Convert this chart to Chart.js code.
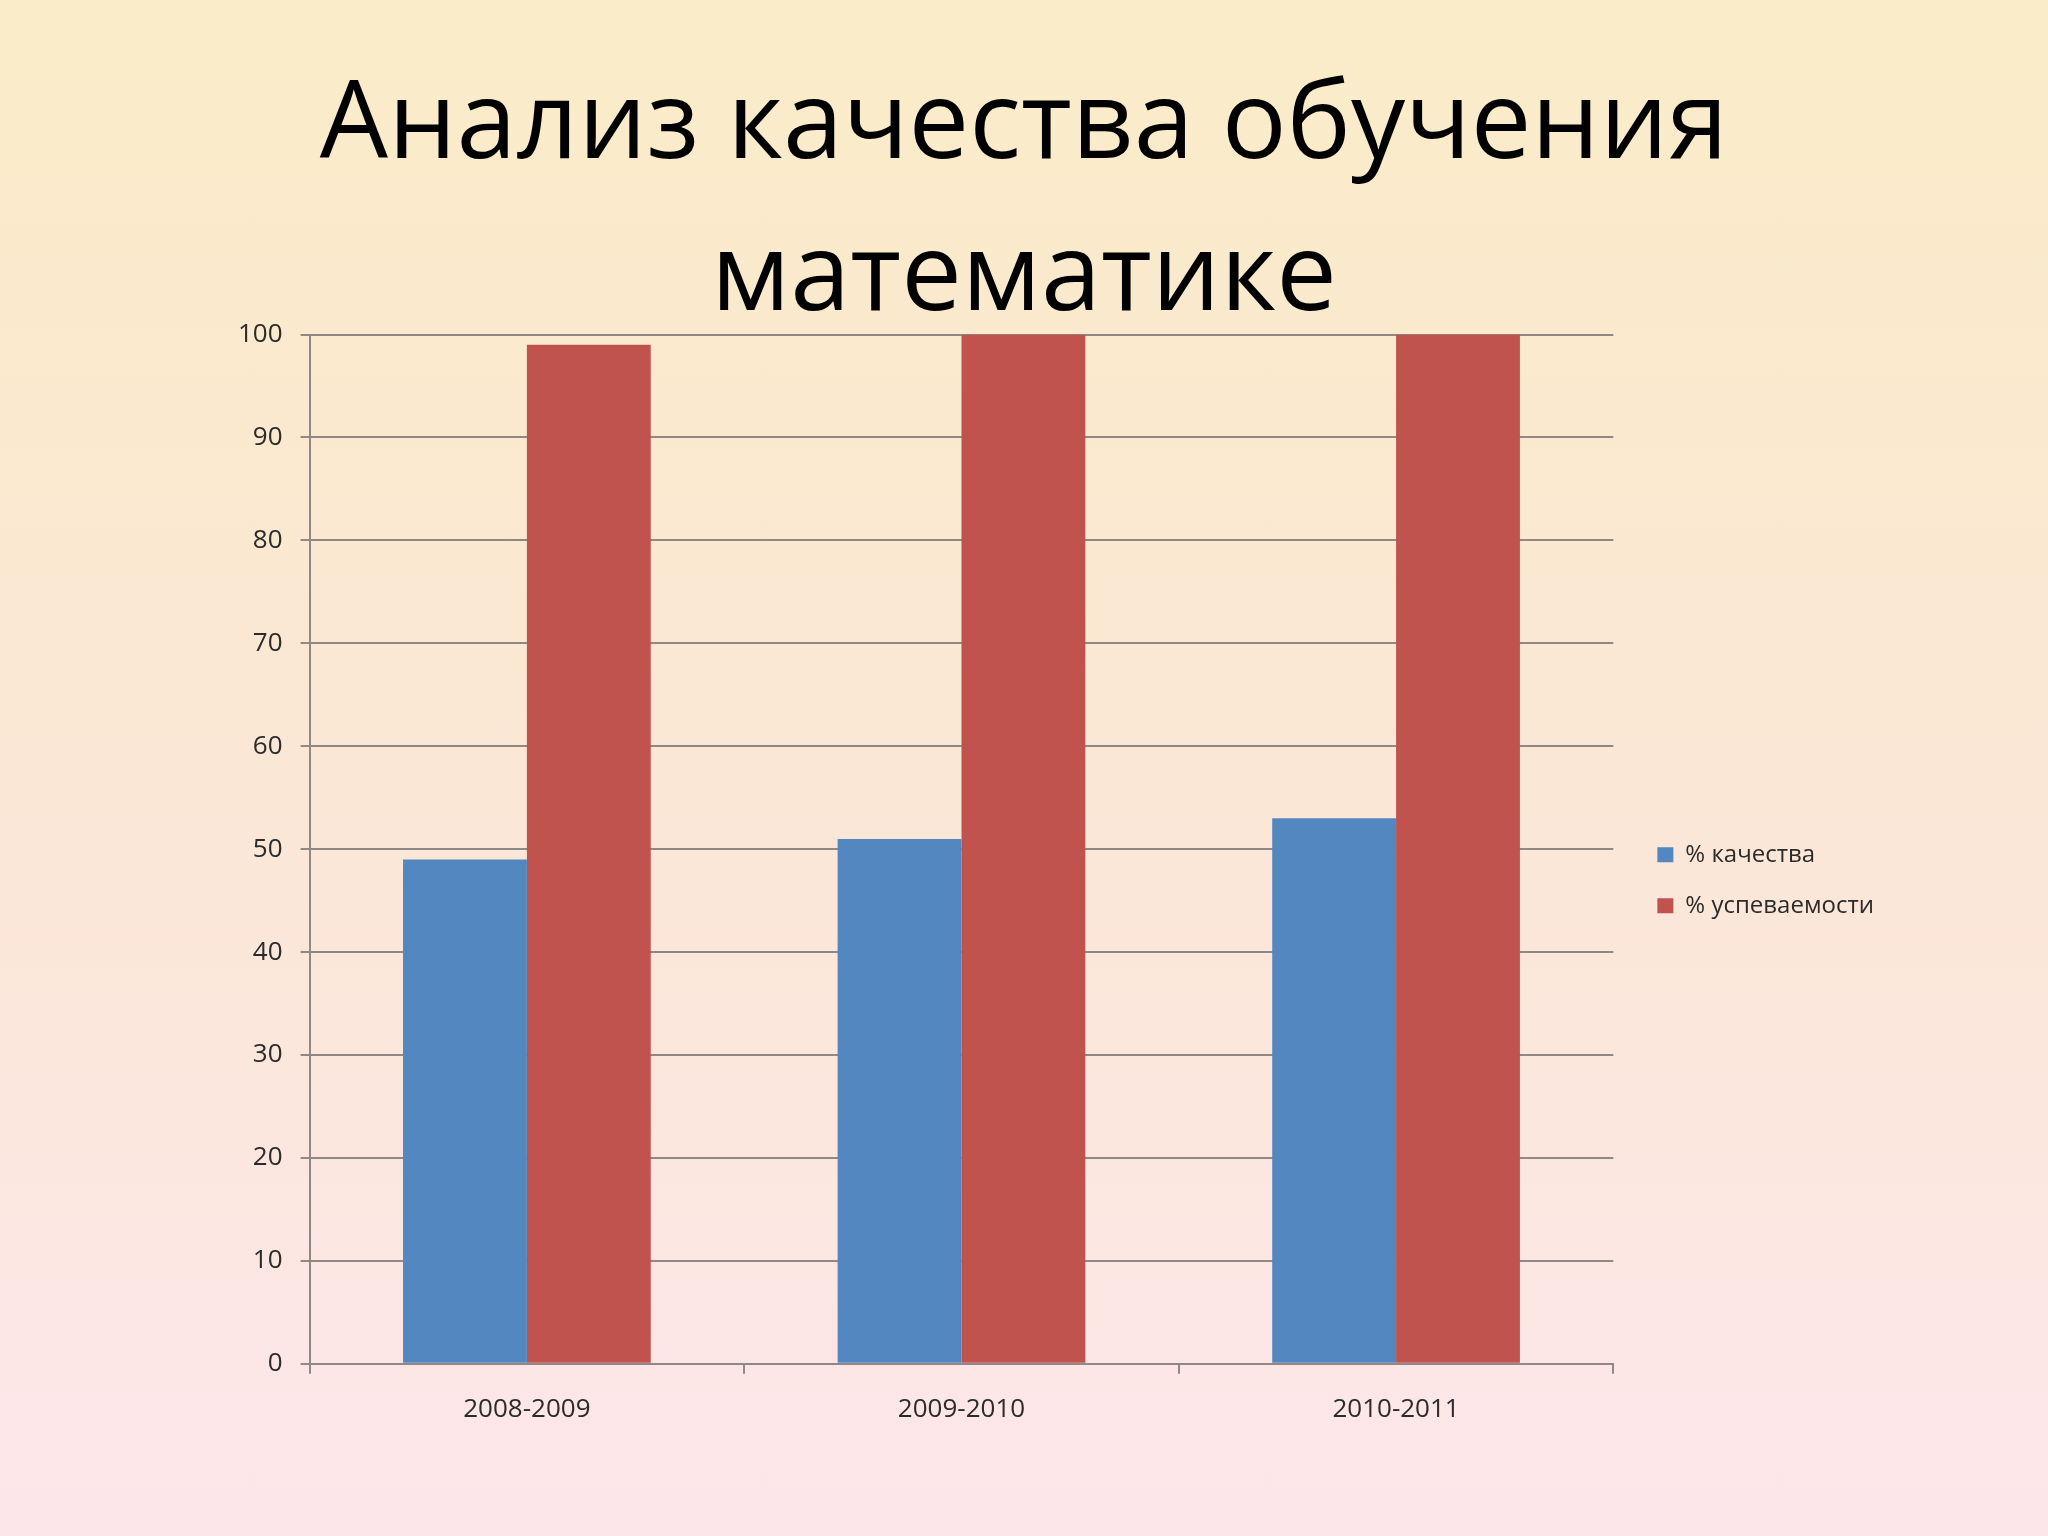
<!DOCTYPE html>
<html lang="ru">
<head>
  <meta charset="UTF-8">
  <title>Анализ качества обучения математике</title>
  <script src="https://cdn.jsdelivr.net/npm/chart.js"></script>
  <style>
    html, body { margin: 0; padding: 0; }
    body {
      width: 2048px; height: 1536px; overflow: hidden;
      background: linear-gradient(to bottom, #faecc8 0%, #fbe7d5 50%, #fde6ea 100%);
    }
    #box { position: relative; width: 2048px; height: 1536px; }
  </style>
</head>
<body>
  <div id="box"><canvas id="mathChart"></canvas></div>
  <script>
    // данные
    const years = ['2008-2009', '2009-2010', '2010-2011'];
    const quality = [49, 51, 53];
    const progress = [99, 100, 100];
    const titleLines = ['Анализ качества обучения', 'математике'];

    Chart.defaults.font.family = "'Open Sans', 'Noto Sans', sans-serif";
    Chart.defaults.color = '#2b2b2b';

    // заголовок по центру слайда, легенда чуть правее и ниже
    const slideLayout = {
      id: 'slideLayout',
      afterLayout(chart) {
        const t = chart.titleBlock;
        t.left = 0; t.right = chart.width; t.width = chart.width;
        const lg = chart.legend;
        lg.left += 17; lg.right += 17;
        lg.top += 31; lg.bottom += 31;
      }
    };

    const gridColor = '#8f8885';

    new Chart(document.getElementById('mathChart'), {
      type: 'bar',
      data: {
        labels: years,
        datasets: [
          { label: '% качества', data: quality, backgroundColor: '#5387bf' },
          { label: '% успеваемости', data: progress, backgroundColor: '#c1534f' }
        ]
      },
      options: {
        responsive: true,
        maintainAspectRatio: false,
        animation: false,
        categoryPercentage: 0.57,
        barPercentage: 1.0,
        layout: { padding: { left: 220, top: 0, right: 181, bottom: 91 } },
        plugins: {
          title: {
            display: true,
            text: titleLines,
            color: '#000',
            font: { size: 108, weight: 'normal', lineHeight: 1.41 },
            padding: { top: 51, bottom: -21 }
          },
          legend: {
            position: 'right',
            fullSize: false,
            labels: {
              boxWidth: 16,
              boxHeight: 15,
              padding: 27,
              font: { size: 24 },
              color: '#2b2b2b'
            }
          },
          tooltip: { enabled: false }
        },
        scales: {
          x: {
            grid: {
              offset: true,
              drawOnChartArea: false,
              drawTicks: true,
              tickLength: 10,
              color: gridColor,
              lineWidth: 2
            },
            border: { display: true, color: gridColor, width: 2 },
            ticks: { padding: 20, font: { size: 26 } }
          },
          y: {
            min: 0,
            max: 100,
            ticks: { stepSize: 10, padding: 18, font: { size: 26 } },
            grid: { color: gridColor, lineWidth: 2, tickLength: 9 },
            border: { display: true, color: gridColor, width: 2 }
          }
        }
      },
      plugins: [slideLayout]
    });
  </script>
</body>
</html>
